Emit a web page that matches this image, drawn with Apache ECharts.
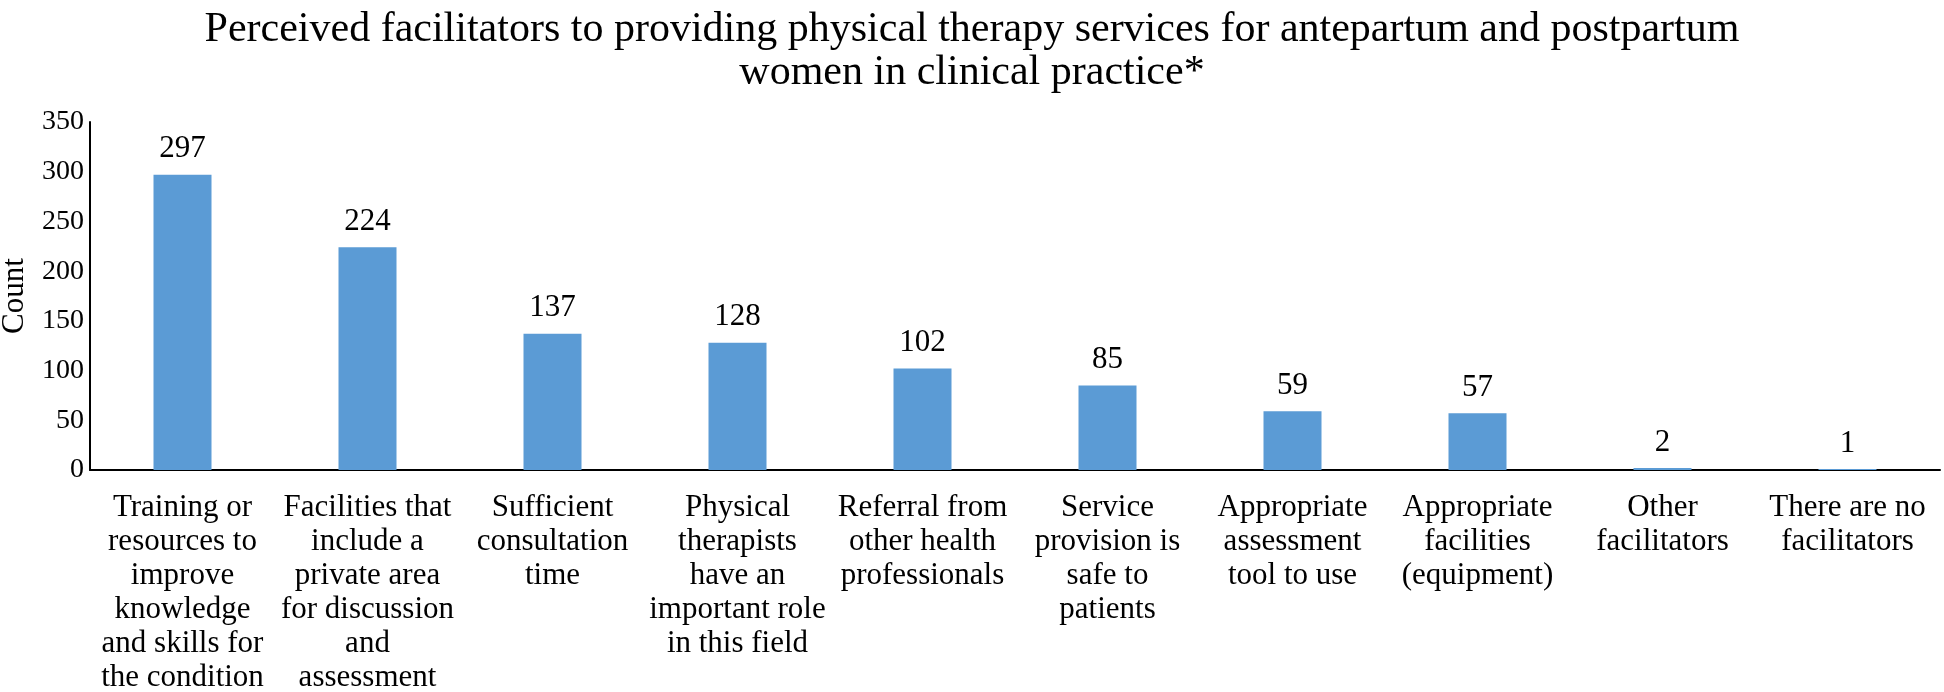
<!DOCTYPE html>
<html>
<head>
<meta charset="utf-8">
<script src="https://cdn.jsdelivr.net/npm/echarts@6/dist/echarts.min.js"></script>
<style>
  html, body { margin: 0; padding: 0; background: #fff; }
  #chart { width: 1944px; height: 692px; }
</style>
</head>
<body>
<div id="chart"></div>
<script>
// categories (line breaks as in the original figure)
var categories = [
  "Training or\nresources to\nimprove\nknowledge\nand skills for\nthe condition",
  "Facilities that\ninclude a\nprivate area\nfor discussion\nand\nassessment",
  "Sufficient\nconsultation\ntime",
  "Physical\ntherapists\nhave an\nimportant role\nin this field",
  "Referral from\nother health\nprofessionals",
  "Service\nprovision is\nsafe to\npatients",
  "Appropriate\nassessment\ntool to use",
  "Appropriate\nfacilities\n(equipment)",
  "Other\nfacilitators",
  "There are no\nfacilitators"
];
var counts = [297, 224, 137, 128, 102, 85, 59, 57, 2, 1];

var titleText = "Perceived facilitators to providing physical therapy services for antepartum and postpartum\nwomen in clinical practice*";
var serif = "Liberation Serif";

var myChart = echarts.init(document.getElementById("chart"));
myChart.setOption({
  backgroundColor: "#fff",
  animation: false,
  title: {
    text: titleText,
    left: "center",
    top: 3,
    textStyle: {
      fontFamily: serif,
      fontWeight: "normal",
      fontSize: 42,
      lineHeight: 43,
      color: "#000"
    }
  },
  grid: { left: 90, right: 4, top: 122, bottom: 222, containLabel: false, outerBoundsMode: "none" },
  xAxis: {
    type: "category",
    data: categories,
    axisLine: { lineStyle: { color: "#000", width: 2 } },
    axisTick: { show: false },
    axisLabel: {
      interval: 0,
      margin: 21,
      fontFamily: serif,
      fontSize: 31,
      lineHeight: 34,
      color: "#000"
    }
  },
  yAxis: {
    type: "value",
    min: 0,
    max: 350,
    interval: 50,
    name: "Count",
    nameLocation: "middle",
    nameRotate: 90,
    nameGap: 60,
    nameTextStyle: { fontFamily: serif, fontSize: 31, color: "#000" },
    axisLine: { show: true, lineStyle: { color: "#000", width: 2 } },
    axisTick: { show: false },
    splitLine: { show: false },
    axisLabel: { fontFamily: serif, fontSize: 28, color: "#000", margin: 6 }
  },
  series: [{
    type: "bar",
    data: counts,
    barWidth: 58,
    itemStyle: { color: "#5B9BD5" },
    label: {
      show: true,
      position: "top",
      distance: 10,
      fontFamily: serif,
      fontSize: 31,
      color: "#000"
    }
  }]
});
</script>
</body>
</html>
